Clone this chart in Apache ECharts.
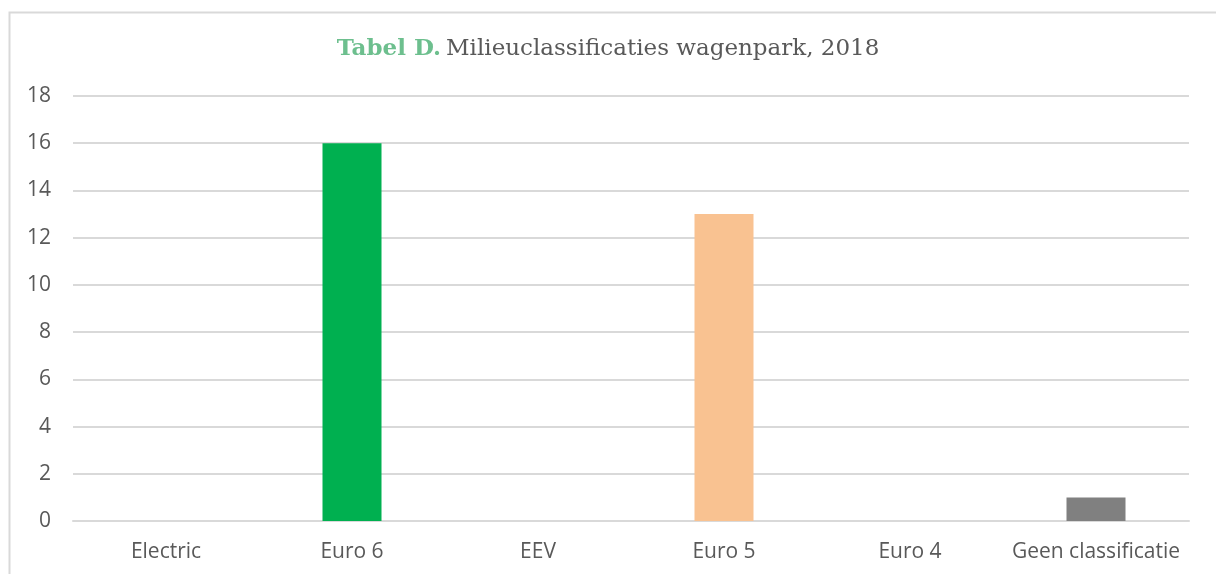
<!DOCTYPE html>
<html>
<head>
<meta charset="utf-8">
<script src="https://cdn.jsdelivr.net/npm/echarts@6/dist/echarts.min.js"></script>
<style>
  html, body { margin: 0; padding: 0; background: #fff; }
  #chart { width: 1216px; height: 574px; }
</style>
</head>
<body>
<div id="chart"></div>
<script>
// categorieën en aantallen
const categories = ["Electric", "Euro 6", "EEV", "Euro 5", "Euro 4", "Geen classificatie"];
const values = [0, 16, 0, 13, 0, 1];
const barColors = ["#00B050", "#00B050", "#00B050", "#F9C291", "#808080", "#808080"];

let chart = echarts.init(document.getElementById("chart"), null, { renderer: "canvas" });

chart.setOption({
  animation: false,
  backgroundColor: "#fff",
  title: {
    text: "{a|Tabel D.} {b|Milieuclassificaties wagenpark, 2018}",
    left: "center",
    top: 33,
    textStyle: {
      fontWeight: "normal",
      rich: {
        a: { fontFamily: "DejaVu Serif", fontSize: 23, fontWeight: "bold", color: "#6DBF8E" },
        b: { fontFamily: "DejaVu Serif", fontSize: 23, fontWeight: "normal", color: "#595959" }
      }
    }
  },
  graphic: [{
    type: "rect",
    shape: { x: 9.5, y: 12.5, width: 1220, height: 580 },
    style: { fill: "none", stroke: "#d9d9d9", lineWidth: 2 },
    silent: true
  }],
  grid: { left: 73, right: 27, top: 96, bottom: 53 },
  xAxis: {
    type: "category",
    data: categories,
    axisLine: { show: true, lineStyle: { color: "#d9d9d9", width: 2 } },
    axisTick: { show: false },
    axisLabel: { color: "#595959", fontSize: 21, fontFamily: "Open Sans", margin: 21, interval: 0 }
  },
  yAxis: {
    type: "value",
    min: 0,
    max: 18,
    interval: 2,
    axisLine: { show: false },
    axisTick: { show: false },
    splitLine: { lineStyle: { color: "#d9d9d9", width: 2 } },
    axisLabel: { color: "#595959", fontSize: 21, fontFamily: "Open Sans", margin: 22 }
  },
  series: [{
    type: "bar",
    data: values.map((v, i) => ({ value: v, itemStyle: { color: barColors[i] } })),
    barWidth: 59
  }]
});
</script>
</body>
</html>
